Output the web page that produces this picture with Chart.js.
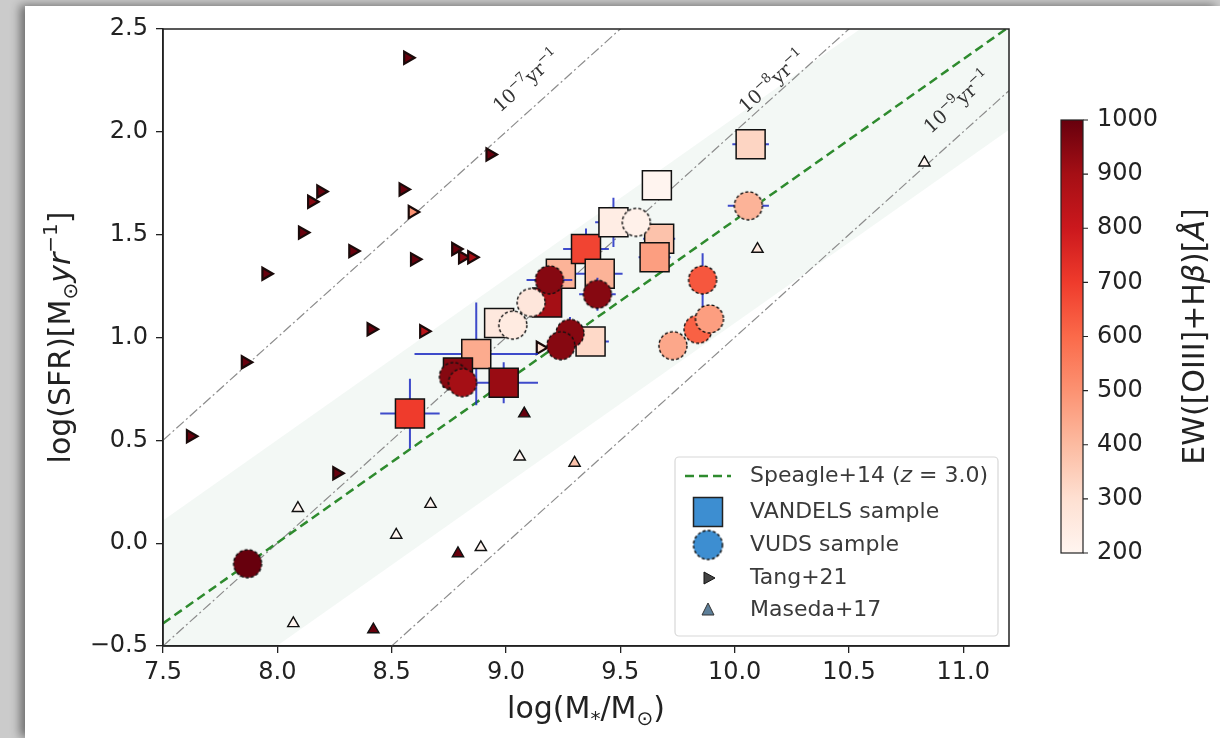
<!DOCTYPE html>
<html>
<head>
<meta charset="utf-8">
<script src="https://cdn.jsdelivr.net/npm/chart.js@4.4.0/dist/chart.umd.min.js"></script>
<style>
  html, body { margin: 0; padding: 0; width: 1220px; height: 738px; overflow: hidden; background: #cbcbcb; }
  .sheet { position: absolute; left: 25px; top: 6px; width: 1195px; height: 732px; background: #fff;
           box-shadow: -5px -1px 9px rgba(0, 0, 0, 0.45); }
  #wrap { position: absolute; left: 0; top: 0; width: 1220px; height: 738px; }
</style>
</head>
<body>
<div class="sheet"></div>
<div id="wrap"><canvas id="sfrChart" width="1220" height="738"></canvas></div>
<script>
// axis ticks
const xTicks = [7.5, 8.0, 8.5, 9.0, 9.5, 10.0, 10.5, 11.0];
const yTicks = [-0.5, 0.0, 0.5, 1.0, 1.5, 2.0, 2.5];
const ewTicks = [200, 300, 400, 500, 600, 700, 800, 900, 1000];

// VANDELS sample (log M*, log SFR, EW, errors)
const vandelsMass    = [8.58, 8.87, 8.99, 8.79, 8.97, 9.18, 9.24, 9.35, 9.41, 9.37, 9.47, 9.66, 9.67, 9.65, 10.07];
const vandelsSFR     = [0.63, 0.92, 0.78, 0.83, 1.07, 1.17, 1.31, 1.43, 1.31, 0.98, 1.56, 1.74, 1.48, 1.39, 1.94];
const vandelsEW      = [700, 440, 920, 950, 260, 900, 420, 680, 420, 320, 240, 205, 380, 470, 330];
const vandelsMassErr = [0.13, 0.27, 0.15, 0.05, 0.05, 0.06, 0.10, 0.10, 0.10, 0.08, 0.08, 0.02, 0.07, 0.07, 0.08];
const vandelsSFRErr  = [0.17, 0.25, 0.10, 0.05, 0.05, 0.04, 0.05, 0.10, 0.05, 0.05, 0.12, 0.02, 0.04, 0.04, 0.03];

// VUDS sample
const vudsMass    = [7.87, 8.77, 8.81, 9.03, 9.11, 9.19, 9.40, 9.28, 9.24, 9.57, 10.06, 9.86, 9.84, 9.89, 9.73];
const vudsSFR     = [-0.10, 0.81, 0.78, 1.06, 1.17, 1.28, 1.21, 1.02, 0.96, 1.56, 1.64, 1.28, 1.04, 1.09, 0.96];
const vudsEW      = [1000, 950, 900, 250, 270, 950, 950, 950, 950, 220, 420, 640, 620, 470, 450];
const vudsMassErr = [0.02, 0.05, 0.05, 0.05, 0.06, 0.10, 0.08, 0.05, 0.06, 0.05, 0.09, 0.04, 0.02, 0.02, 0.02];
const vudsSFRErr  = [0.02, 0.04, 0.04, 0.05, 0.05, 0.05, 0.08, 0.08, 0.05, 0.03, 0.04, 0.13, 0.02, 0.02, 0.02];

// Tang+21
const tangMass = [8.57, 8.93, 8.19, 8.15, 8.55, 8.59, 8.11, 8.33, 7.95, 8.60, 8.78, 8.81, 8.85, 8.41, 8.64, 7.86, 7.62, 8.26, 9.15];
const tangSFR  = [2.36, 1.89, 1.71, 1.66, 1.72, 1.61, 1.51, 1.42, 1.31, 1.38, 1.43, 1.39, 1.39, 1.04, 1.03, 0.88, 0.52, 0.34, 0.95];
const tangEW   = [1000, 1000, 1000, 950, 1000, 500, 1000, 1000, 1000, 1000, 1000, 950, 900, 1000, 850, 1000, 1000, 1000, 300];

// Maseda+17
const masedaMass = [9.08, 9.06, 9.30, 8.09, 8.67, 8.52, 8.79, 8.89, 8.07, 8.42, 10.10, 10.83];
const masedaSFR  = [0.63, 0.42, 0.39, 0.17, 0.19, 0.04, -0.05, -0.02, -0.39, -0.42, 1.43, 1.85];
const masedaEW   = [1000, 200, 380, 200, 200, 200, 1000, 200, 200, 1000, 250, 200];

// Speagle+14 main sequence at z = 3.0 and its scatter band
const speagleMass   = [7.5, 11.2];
const speagleSFR    = [-0.39, 2.51];
const speagleBandHi = [0.11, 3.01];
const speagleBandLo = [-0.89, 2.01];

// constant specific SFR lines
const ssfrMass = [7.5, 11.2];
const ssfr7 = [0.5, 4.2];
const ssfr8 = [-0.5, 3.2];
const ssfr9 = [-1.5, 2.2];

// matplotlib "Reds"
const redsStops = ['#fff5f0', '#fee0d2', '#fcbba1', '#fc9272', '#fb6a4a', '#ef3b2c', '#cb181d', '#a50f15', '#67000d'];
const EW_MIN = 200, EW_MAX = 1000;

function hexRgb(h) {
  return [parseInt(h.slice(1, 3), 16), parseInt(h.slice(3, 5), 16), parseInt(h.slice(5, 7), 16)];
}
function ewColor(v) {
  let t = (v - EW_MIN) / (EW_MAX - EW_MIN);
  t = Math.max(0, Math.min(1, t)) * (redsStops.length - 1);
  const i = Math.min(Math.floor(t), redsStops.length - 2);
  const f = t - i;
  const a = hexRgb(redsStops[i]), b = hexRgb(redsStops[i + 1]);
  const c = a.map((q, k) => Math.round(q + (b[k] - q) * f));
  return `rgb(${c[0]},${c[1]},${c[2]})`;
}

// circles with dashed edges (VUDS style)
const circleCache = {};
function dashedCircle(fill, r) {
  const key = fill + r;
  if (circleCache[key]) return circleCache[key];
  const c = document.createElement('canvas');
  c.width = c.height = Math.ceil(2 * r + 4);
  const g = c.getContext('2d');
  g.beginPath();
  g.arc(c.width / 2, c.height / 2, r, 0, Math.PI * 2);
  g.fillStyle = fill;
  g.fill();
  g.setLineDash([3, 2.2]);
  g.lineWidth = 1.4;
  g.strokeStyle = '#111';
  g.stroke();
  circleCache[key] = c;
  return c;
}

function pts(xs, ys) {
  return xs.map((v, i) => ({ x: v, y: ys[i] }));
}

const FONT = '"DejaVu Sans", sans-serif';

// draws a row of text pieces (for sub/superscripts), centred on (x, y)
function drawRuns(ctx, runs, x, y, angle, family) {
  ctx.save();
  ctx.translate(x, y);
  ctx.rotate(angle);
  let total = 0;
  runs.forEach(r => {
    ctx.font = `${r.italic ? 'italic ' : ''}${r.size}px ${family || FONT}`;
    r.w = ctx.measureText(r.t).width;
    total += r.w;
  });
  let cx = -total / 2;
  runs.forEach(r => {
    ctx.font = `${r.italic ? 'italic ' : ''}${r.size}px ${family || FONT}`;
    ctx.fillText(r.t, cx, r.dy || 0);
    cx += r.w;
  });
  ctx.restore();
}

const errorBars = {
  id: 'errorBars',
  beforeDatasetDraw(chart, args) {
    const ds = chart.data.datasets[args.index];
    if (!ds.errX) return;
    const { ctx, chartArea: a, scales: { x, y } } = chart;
    ctx.save();
    ctx.beginPath();
    ctx.rect(a.left, a.top, a.right - a.left, a.bottom - a.top);
    ctx.clip();
    ctx.strokeStyle = 'rgba(30, 45, 195, 0.85)';
    ctx.lineWidth = 2;
    ctx.beginPath();
    ds.data.forEach((p, i) => {
      const px = x.getPixelForValue(p.x), py = y.getPixelForValue(p.y);
      const ex = ds.errX[i], ey = ds.errY[i];
      if (ex) {
        ctx.moveTo(x.getPixelForValue(p.x - ex), py);
        ctx.lineTo(x.getPixelForValue(p.x + ex), py);
      }
      if (ey) {
        ctx.moveTo(px, y.getPixelForValue(p.y - ey));
        ctx.lineTo(px, y.getPixelForValue(p.y + ey));
      }
    });
    ctx.stroke();
    ctx.restore();
  }
};

// labels along the sSFR lines
const ssfrLabels = [
  { data: ssfr7, exp: '\u22127', at: 9.16, off: 23 },
  { data: ssfr8, exp: '\u22128', at: 10.20, off: 11 },
  { data: ssfr9, exp: '\u22129', at: 11.05, off: 25 }
];

const annotations = {
  id: 'annotations',
  afterDatasetsDraw(chart) {
    const { ctx, chartArea: a, scales: { x, y } } = chart;
    ctx.save();
    ctx.fillStyle = '#333';
    ctx.textBaseline = 'middle';
    ssfrLabels.forEach(l => {
      const x0 = x.getPixelForValue(ssfrMass[0]), y0 = y.getPixelForValue(l.data[0]);
      const x1 = x.getPixelForValue(ssfrMass[1]), y1 = y.getPixelForValue(l.data[1]);
      const ang = Math.atan2(y1 - y0, x1 - x0);
      const t = (l.at - ssfrMass[0]) / (ssfrMass[1] - ssfrMass[0]);
      const fx = x0 + (x1 - x0) * t, fy = y0 + (y1 - y0) * t;
      const cx = fx + Math.sin(ang) * l.off, cy = fy - Math.cos(ang) * l.off;
      drawRuns(ctx, [
        { t: '10', size: 19 },
        { t: l.exp, size: 13, dy: -7 },
        { t: 'yr', size: 19 },
        { t: '\u22121', size: 13, dy: -7 }
      ], cx, cy, ang, '"DejaVu Serif", serif');
    });
    ctx.restore();

    // full axes frame
    ctx.save();
    ctx.strokeStyle = '#222';
    ctx.lineWidth = 1.5;
    ctx.strokeRect(a.left, a.top, a.right - a.left, a.bottom - a.top);
    ctx.restore();
  },
  afterDraw(chart) {
    const { ctx, chartArea: a } = chart;
    ctx.save();
    ctx.fillStyle = '#222';
    ctx.textBaseline = 'alphabetic';
    // x title
    drawRuns(ctx, [
      { t: 'log(M', size: 30 },
      { t: '*', size: 20, dy: 7 },
      { t: '/M', size: 30 },
      { t: '\u2299', size: 20, dy: 7 },
      { t: ')', size: 30 }
    ], (a.left + a.right) / 2, 718, 0);
    // y title
    drawRuns(ctx, [
      { t: 'log(SFR)[M', size: 30 },
      { t: '\u2299', size: 20, dy: 7 },
      { t: 'yr', size: 30, italic: true },
      { t: '\u22121', size: 20, dy: -13 },
      { t: ']', size: 30 }
    ], 70, (a.top + a.bottom) / 2, -Math.PI / 2);
    ctx.restore();

    // colour bar
    const ew = chart.scales.ew;
    const top = ew.getPixelForValue(EW_MAX), bot = ew.getPixelForValue(EW_MIN);
    const cbL = a.right + 52, cbW = 22;
    ctx.save();
    const grad = ctx.createLinearGradient(0, bot, 0, top);
    redsStops.forEach((c, i) => grad.addColorStop(i / (redsStops.length - 1), c));
    ctx.fillStyle = grad;
    ctx.fillRect(cbL, top, cbW, bot - top);
    ctx.strokeStyle = '#222';
    ctx.lineWidth = 1.2;
    ctx.strokeRect(cbL, top, cbW, bot - top);
    ctx.beginPath();
    ewTicks.forEach(v => {
      const py = ew.getPixelForValue(v);
      ctx.moveTo(cbL + cbW, py);
      ctx.lineTo(cbL + cbW + 5, py);
    });
    ctx.stroke();
    ctx.fillStyle = '#222';
    drawRuns(ctx, [
      { t: 'EW([OIII]+H', size: 30 },
      { t: '\u03b2', size: 30, italic: true },
      { t: ')[', size: 30 },
      { t: '\u00c5', size: 30, italic: true },
      { t: ']', size: 30 }
    ], 1204, (top + bot) / 2, -Math.PI / 2);
    ctx.restore();

    // legend box
    const bl = a.right - 334, bt = a.bottom - 189, bw = 323, bh = 179;
    ctx.save();
    ctx.fillStyle = 'rgba(255,255,255,0.85)';
    ctx.strokeStyle = '#d8d8d8';
    ctx.lineWidth = 1.2;
    ctx.beginPath();
    ctx.roundRect(bl, bt, bw, bh, 4);
    ctx.fill();
    ctx.stroke();
    const mx = bl + 33, tx = bl + 75;
    const rows = [bt + 19, bt + 55, bt + 88, bt + 121, bt + 153];
    // Speagle line
    ctx.strokeStyle = '#2e8b2e';
    ctx.lineWidth = 2.5;
    ctx.setLineDash([9, 5]);
    ctx.beginPath();
    ctx.moveTo(mx - 23, rows[0]);
    ctx.lineTo(mx + 23, rows[0]);
    ctx.stroke();
    ctx.setLineDash([]);
    // square
    ctx.fillStyle = '#3d8ed1';
    ctx.strokeStyle = '#222';
    ctx.lineWidth = 1.5;
    ctx.fillRect(mx - 14.5, rows[1] - 14.5, 29, 29);
    ctx.strokeRect(mx - 14.5, rows[1] - 14.5, 29, 29);
    // circle
    ctx.drawImage(dashedCircle('#3d8ed1', 14.5), mx - 16.5, rows[2] - 16.5);
    // right triangle
    ctx.fillStyle = '#444';
    ctx.strokeStyle = '#111';
    ctx.lineWidth = 1;
    ctx.beginPath();
    ctx.moveTo(mx + 7, rows[3]);
    ctx.lineTo(mx - 4, rows[3] - 6);
    ctx.lineTo(mx - 4, rows[3] + 6);
    ctx.closePath();
    ctx.fill(); ctx.stroke();
    // up triangle
    ctx.fillStyle = '#5d7f99';
    ctx.strokeStyle = '#333';
    ctx.beginPath();
    ctx.moveTo(mx, rows[4] - 7);
    ctx.lineTo(mx - 6, rows[4] + 5);
    ctx.lineTo(mx + 6, rows[4] + 5);
    ctx.closePath();
    ctx.fill(); ctx.stroke();

    ctx.fillStyle = '#3a3a3a';
    ctx.textBaseline = 'middle';
    ctx.textAlign = 'left';
    const f = 22;
    let cx = tx;
    [['Speagle+14 (', false], ['z', true], [' = 3.0)', false]].forEach(([t, it]) => {
      ctx.font = `${it ? 'italic ' : ''}${f}px ${FONT}`;
      ctx.fillText(t, cx, rows[0]);
      cx += ctx.measureText(t).width;
    });
    ctx.font = `${f}px ${FONT}`;
    ctx.fillText('VANDELS sample', tx, rows[1]);
    ctx.fillText('VUDS sample', tx, rows[2]);
    ctx.fillText('Tang+21', tx, rows[3]);
    ctx.fillText('Maseda+17', tx, rows[4]);
    ctx.restore();
  }
};

// colour-bar scale spans 200..1000 between these canvas rows
const CB_TOP = 120, CB_BOT = 553, AREA_TOP = 29, AREA_BOT = 646;
const ewPerPx = (EW_MAX - EW_MIN) / (CB_BOT - CB_TOP);

const lineStyle = { showLine: true, pointRadius: 0, fill: false };

const ctx = document.getElementById('sfrChart').getContext('2d');
const sfrChart = new Chart(ctx, {
  type: 'scatter',
  data: {
    datasets: [
      {
        label: 'VUDS sample',
        data: pts(vudsMass, vudsSFR),
        errX: vudsMassErr, errY: vudsSFRErr,
        pointStyle: c => dashedCircle(ewColor(vudsEW[c.dataIndex]), 14),
        pointRadius: 14,
        order: 0
      },
      {
        label: 'VANDELS sample',
        data: pts(vandelsMass, vandelsSFR),
        errX: vandelsMassErr, errY: vandelsSFRErr,
        pointStyle: 'rect',
        pointRadius: 20.5,
        pointBackgroundColor: c => ewColor(vandelsEW[c.dataIndex]),
        pointBorderColor: '#111',
        pointBorderWidth: 1.5,
        order: 1
      },
      {
        label: 'Tang+21',
        data: pts(tangMass, tangSFR),
        pointStyle: 'triangle',
        rotation: 90,
        pointRadius: 7,
        pointBackgroundColor: c => ewColor(tangEW[c.dataIndex]),
        pointBorderColor: '#1a0a0a',
        pointBorderWidth: 2.2,
        order: 2
      },
      {
        label: 'Maseda+17',
        data: pts(masedaMass, masedaSFR),
        pointStyle: 'triangle',
        pointRadius: 6.5,
        pointBackgroundColor: c => ewColor(masedaEW[c.dataIndex]),
        pointBorderColor: '#111',
        pointBorderWidth: 1.4,
        order: 3
      },
      {
        label: 'Speagle+14 (z=3.0)',
        data: pts(speagleMass, speagleSFR),
        ...lineStyle,
        borderColor: '#2e8b2e',
        borderWidth: 2.5,
        borderDash: [9, 5],
        order: 4
      },
      { data: pts(ssfrMass, ssfr7), ...lineStyle, borderColor: '#8c8c8c', borderWidth: 1.2, borderDash: [10, 3, 2, 3], order: 5 },
      { data: pts(ssfrMass, ssfr8), ...lineStyle, borderColor: '#8c8c8c', borderWidth: 1.2, borderDash: [10, 3, 2, 3], order: 5 },
      { data: pts(ssfrMass, ssfr9), ...lineStyle, borderColor: '#8c8c8c', borderWidth: 1.2, borderDash: [10, 3, 2, 3], order: 5 },
      { data: pts(speagleMass, speagleBandHi), ...lineStyle, borderWidth: 0, order: 6 },
      {
        data: pts(speagleMass, speagleBandLo), showLine: true, pointRadius: 0, borderWidth: 0,
        fill: '-1', backgroundColor: 'rgba(46, 139, 87, 0.06)', order: 6
      }
    ]
  },
  options: {
    responsive: false,
    animation: false,
    devicePixelRatio: 1,
    layout: { padding: { top: AREA_TOP, left: 0, right: 0, bottom: 0 } },
    plugins: {
      legend: { display: false },
      tooltip: { enabled: false }
    },
    scales: {
      x: {
        type: 'linear',
        min: 7.5,
        max: 11.2,
        afterBuildTicks: s => { s.ticks = xTicks.map(v => ({ value: v })); },
        afterFit: s => { s.height = 738 - AREA_BOT; },
        ticks: {
          callback: v => v.toFixed(1),
          color: '#222',
          padding: 5,
          maxRotation: 0,
          font: { family: FONT, size: 24 }
        },
        grid: { drawOnChartArea: false, drawTicks: true, tickLength: 7, color: '#222', lineWidth: 1.3 },
        border: { color: '#222', width: 1.5 }
      },
      y: {
        type: 'linear',
        min: -0.5,
        max: 2.5,
        afterBuildTicks: s => { s.ticks = yTicks.map(v => ({ value: v })); },
        afterFit: s => { s.width = 163; },
        ticks: {
          callback: v => (v < 0 ? '\u2212' + Math.abs(v).toFixed(1) : v.toFixed(1)),
          color: '#222',
          padding: 8,
          font: { family: FONT, size: 24 }
        },
        grid: { drawOnChartArea: false, drawTicks: true, tickLength: 7, color: '#222', lineWidth: 1.3 },
        border: { color: '#222', width: 1.5 }
      },
      ew: {
        type: 'linear',
        axis: 'y',
        position: 'right',
        min: EW_MIN - (AREA_BOT - CB_BOT) * ewPerPx,
        max: EW_MAX + (CB_TOP - AREA_TOP) * ewPerPx,
        afterBuildTicks: s => { s.ticks = ewTicks.map(v => ({ value: v })); },
        afterFit: s => { s.width = 211; s.paddingTop = 0; s.paddingBottom = 0; },
        ticks: {
          callback: v => String(v),
          color: '#222',
          padding: 0,
          font: { family: FONT, size: 24 }
        },
        // tick marks hidden; their length only offsets the labels past the colour bar
        grid: { display: false, drawTicks: true, tickLength: 88 },
        border: { display: false }
      }
    }
  },
  plugins: [errorBars, annotations]
});
</script>
</body>
</html>
